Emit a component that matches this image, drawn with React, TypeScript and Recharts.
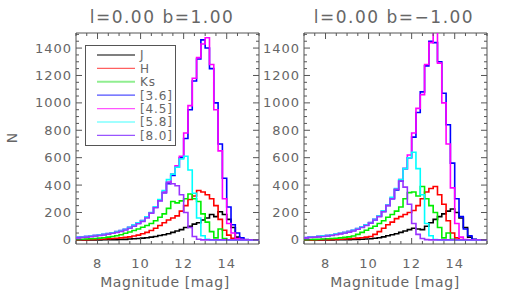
import React from 'react';
import { ComposedChart, Line, XAxis, YAxis, ReferenceArea } from 'recharts';

// bin starts (mag)
const mags = [7.0,7.2,7.4,7.6,7.8,8.0,8.2,8.4,8.6,8.8,9.0,9.2,9.4,9.6,9.8,10.0,10.2,10.4,10.6,10.8,11.0,11.2,11.4,11.6,11.8,12.0,12.2,12.4,12.6,12.8,13.0,13.2,13.4,13.6,13.8,14.0,14.2,14.4,14.6,14.8,15.0,15.2,15.4,15.6];

const seriesNames = ['J', 'H', 'Ks', '[3.6]', '[4.5]', '[5.8]', '[8.0]'];
const seriesKeys = ['J', 'H', 'Ks', 'm36', 'm45', 'm58', 'm80'];
const seriesColors = ['#000000', '#ff0000', '#00ee00', '#0000ff', '#ff00ff', '#00ffff', '#9933ff'];
const legendColors = ['#555555', '#ff6060', '#90ee90', '#5050ff', '#ff55ff', '#80ffff', '#9955ff'];

// panel 1: l=0.00 b=1.00
const J1 = [0,0,0,0,0,0,1,1,1,2, 3,4,6,8,10,13,16,20,25,32, 38,45,55,65,75,90,100,115,125,145, 160,185,170,205,185,150,90,20,3,0, 0,0,0,0];
const H1 = [0,1,2,3,4,5,6,8,10,12, 15,18,22,28,35,45,55,68,85,105, 125,145,160,175,210,250,295,320,360,350, 330,300,250,150,70,35,12,3,0,0, 0,0,0,0];
const Ks1 = [3,5,6,8,10,13,16,20,25,30, 38,48,58,68,80,92,105,120,140,165, 190,230,280,270,285,300,335,300,280,190, 130,60,15,80,10,0,0,0,0,0, 0,0,0,0];
const M36_1 = [18,20,24,27,31,35,39,45,51,58, 66,76,90,105,122,140,165,198,238,288, 345,410,470,530,600,740,950,1160,1320,1460, 1400,1250,1000,700,450,240,110,50,15,3, 0,0,0,0];
const M45_1 = [18,21,25,28,32,36,40,46,52,60, 68,78,92,106,124,142,166,198,240,290, 350,420,480,540,610,780,980,1180,1330,1430, 1475,1280,950,650,300,120,50,10,2,0, 0,0,0,0];
const M58_1 = [18,21,25,28,32,36,40,46,52,60, 68,78,92,108,125,142,168,200,242,295, 360,440,480,530,590,610,510,340,160,30, 5,0,0,0,0,0,0,0,0,0, 0,0,0,0];
const M80_1 = [15,18,20,24,28,32,36,42,48,55, 62,72,85,100,118,135,160,195,235,285, 345,420,410,395,330,200,90,25,5,0, 0,0,0,0,0,0,0,0,0,0, 0,0,0,0];

// panel 2: l=0.00 b=-1.00
const J2 = [0,0,0,0,0,0,0,1,1,1, 2,3,4,5,6,8,12,16,22,30, 37,45,55,65,75,85,80,75,100,125, 150,170,190,210,225,200,160,90,20,3, 0,0,0,0];
const H2 = [0,0,1,1,2,2,3,4,5,6, 8,10,13,16,20,25,40,60,85,110, 130,155,170,185,200,215,250,300,350,375, 390,330,260,140,50,15,3,0,0,0, 0,0,0,0];
const Ks2 = [2,3,4,5,6,8,10,12,15,18, 22,28,40,55,70,85,100,120,140,165, 185,210,240,300,345,350,320,390,300,250, 200,90,15,50,5,0,0,0,0,0, 0,0,0,0];
const M36_2 = [16,19,22,25,28,31,35,41,47,53, 60,68,80,93,108,125,148,173,208,252, 300,365,430,520,600,750,930,1080,1270,1450, 1440,1300,1070,840,560,300,170,80,30,5, 0,0,0,0];
const M45_2 = [17,20,23,26,29,32,36,42,48,54, 61,70,82,95,110,127,150,176,212,255, 305,370,440,520,620,780,960,1060,1280,1440, 1560,1290,1000,700,380,120,20,3,0,0, 0,0,0,0];
const M58_2 = [17,20,23,26,29,32,36,42,48,54, 61,70,82,95,110,127,150,176,212,255, 310,375,440,520,600,640,520,330,120,30, 3,0,0,0,0,0,0,0,0,0, 0,0,0,0];
const M80_2 = [15,18,20,22,25,28,32,38,44,50, 57,65,78,90,105,122,145,170,205,250, 300,370,430,385,260,120,40,10,2,0, 0,0,0,0,0,0,0,0,0,0, 0,0,0,0];

const xMajorTicks = [8, 10, 12, 14];
const xAllTicks = [7, 7.5, 8, 8.5, 9, 9.5, 10, 10.5, 11, 11.5, 12, 12.5, 13, 13.5, 14, 14.5, 15, 15.5];
const yMajorTicks = [0, 200, 400, 600, 800, 1000, 1200, 1400];
const yAllTicks = [0,50,100,150,200,250,300,350,400,450,500,550,600,650,700,750,800,850,900,950,1000,1050,1100,1150,1200,1250,1300,1350,1400,1450,1500];

const titles = ['l=0.00 b=1.00', 'l=0.00 b=\u22121.00'];
const xLabel = 'Magnitude [mag]';
const yLabel = 'N';

const AX = '#555555';
const TXT = '#666666';
const FONT = 'DejaVu Sans';
const PT = 33, PB = 244, PL = 76, PR = 259;
const CW = 260, CH = 295;

function buildRows(arrs: number[][]) {
  return mags.map((m, i) => {
    const r: any = { m };
    seriesKeys.forEach((k, j) => { r[k] = arrs[j][i]; });
    return r;
  });
}

const rows1 = buildRows([J1, H1, Ks1, M36_1, M45_1, M58_1, M80_1]);
const rows2 = buildRows([J2, H2, Ks2, M36_2, M45_2, M58_2, M80_2]);

function XTick(p: any) {
  const x = p.x;
  const v = p.payload.value;
  const major = xMajorTicks.includes(v);
  const len = major ? 6 : 3;
  return (
    <g>
      <line x1={x} x2={x} y1={PB} y2={PB - len} stroke={AX} strokeWidth={1} />
      <line x1={x} x2={x} y1={PT} y2={PT + len} stroke={AX} strokeWidth={1} />
      {major && (
        <text x={x} y={PB + 24} textAnchor="middle" fill={TXT} fontSize={13} fontFamily={FONT} style={{ letterSpacing: '1px' }}>
          {v}
        </text>
      )}
    </g>
  );
}

function YTick(p: any) {
  const y = p.y;
  const v = p.payload.value;
  const major = yMajorTicks.includes(v);
  const len = major ? 6 : 3;
  return (
    <g>
      <line x1={PL} x2={PL + len} y1={y} y2={y} stroke={AX} strokeWidth={1} />
      <line x1={PR} x2={PR - len} y1={y} y2={y} stroke={AX} strokeWidth={1} />
      {major && (
        <text x={PL - 4} y={y + 4.5} textAnchor="end" fill={TXT} fontSize={13} fontFamily={FONT} style={{ letterSpacing: '1px' }}>
          {v}
        </text>
      )}
    </g>
  );
}

function Panel({ rows, left }: { rows: any[]; left: number }) {
  return (
    <div style={{ position: 'absolute', left, top: 0, width: CW, height: CH }}>
      <ComposedChart width={CW} height={CH} data={rows} margin={{ top: PT, right: CW - PR, bottom: CH - PB - 30, left: 0 }}>
        <XAxis dataKey="m" type="number" domain={[7, 15.5]} allowDataOverflow ticks={xAllTicks} interval={0}
          tickLine={false} axisLine={false} height={30} tick={(p: any) => <XTick {...p} />} />
        <YAxis type="number" domain={[-30, 1510]} allowDataOverflow ticks={yAllTicks} interval={0}
          tickLine={false} axisLine={false} width={PL} tick={(p: any) => <YTick {...p} />} />
        <ReferenceArea x1={7} x2={15.5} y1={-30} y2={1510} fill="none" stroke={AX} strokeWidth={1} ifOverflow="visible" />
        {seriesKeys.map((k, i) => (
          <Line key={k} dataKey={k} name={seriesNames[i]} type="stepAfter" stroke={seriesColors[i]} strokeWidth={1.6}
            dot={false} activeDot={false} isAnimationActive={false} />
        ))}
      </ComposedChart>
    </div>
  );
}

export default function App() {
  return (
    <div style={{ position: 'absolute', left: 0, top: 0, width: 507, height: 295, background: '#fff', overflow: 'hidden' }}>
      <Panel rows={rows1} left={0} />
      <Panel rows={rows2} left={228} />
      <svg width={507} height={295} style={{ position: 'absolute', left: 0, top: 0, pointerEvents: 'none' }}>
        <text x={162} y={22.5} textAnchor="middle" fill={TXT} fontSize={17} fontFamily={FONT} style={{ letterSpacing: '1.5px' }}>{titles[0]}</text>
        <text x={394} y={22.5} textAnchor="middle" fill={TXT} fontSize={17} fontFamily={FONT} style={{ letterSpacing: '1.5px' }}>{titles[1]}</text>
        <text x={165} y={286.5} textAnchor="middle" fill={TXT} fontSize={14} fontFamily={FONT} style={{ letterSpacing: '0.6px' }}>{xLabel}</text>
        <text x={395} y={286.5} textAnchor="middle" fill={TXT} fontSize={14} fontFamily={FONT} style={{ letterSpacing: '0.6px' }}>{xLabel}</text>
        <text x={17} y={138} textAnchor="middle" fill={TXT} fontSize={14} fontFamily={FONT} transform="rotate(-90 17 138)">{yLabel}</text>
        <rect x={85.5} y={45.5} width={90} height={100} fill="#fff" stroke={AX} strokeWidth={1} />
        {seriesNames.map((n, i) => {
          const y = 55 + i * 13.4;
          return (
            <g key={n}>
              <line x1={97} x2={135} y1={y} y2={y} stroke={legendColors[i]} strokeWidth={i === 2 ? 2 : 1.3} />
              <text x={140} y={y + 4.3} fill={TXT} fontSize={12} fontFamily={FONT} style={{ letterSpacing: '0.9px' }}>{n}</text>
            </g>
          );
        })}
      </svg>
    </div>
  );
}
